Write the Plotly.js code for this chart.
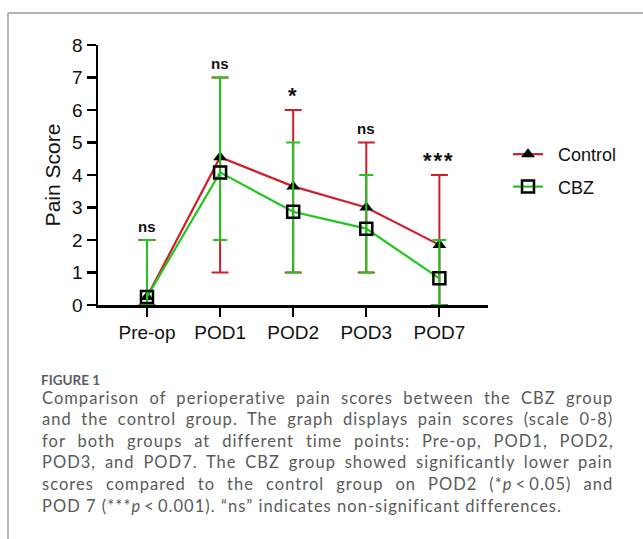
<!DOCTYPE html>
<html>
<head>
<meta charset="utf-8">
<script src="https://cdn.plot.ly/plotly-3.0.1.min.js"></script>
<style>
html,body{margin:0;padding:0;background:#fff;}
#chart{width:643px;height:539px;}
</style>
</head>
<body>
<div id="chart"></div>
<script>
// ---- data ----
const categories = ['Pre-op', 'POD1', 'POD2', 'POD3', 'POD7'];
const controlMean = [0.25, 4.55, 3.65, 3.0, 1.85];
const controlLow = [0, 1, 1, 1, 0];
const controlHigh = [2, 7, 6, 5, 4];
const cbzMean = [0.25, 4.08, 2.87, 2.35, 0.82];
const cbzLow = [0, 2, 1, 1, 0];
const cbzHigh = [2, 7, 5, 4, 2];
const seriesNames = ['Control', 'CBZ'];
const sigLabels = ['ns', 'ns', '*', 'ns', '***'];
const yTickVals = [0, 1, 2, 3, 4, 5, 6, 7, 8];
const figureLabel = 'FIGURE 1';
const captionLines = [
  'Comparison of perioperative pain scores between the CBZ group',
  'and the control group. The graph displays pain scores (scale 0-8)',
  'for both groups at different time points: Pre-op, POD1, POD2,',
  'POD3, and POD7. The CBZ group showed significantly lower pain',
  'scores compared to the control group on POD2 (*<i>p</i>\u2009<\u20090.05) and',
  'POD 7 (***<i>p</i>\u2009<\u20090.001). \u201Cns\u201D indicates non-significant differences.'
];

// ---- styling ----
const W = 643, H = 539;
const RED = '#d01f28', GREEN = '#20c620';
const AXFONT = 'Liberation Sans, Arial, sans-serif';
const CAPFONT = 'Lato, sans-serif';

function px(x) { return x / W; }
function py(y) { return 1 - y / H; }

// caption letter-spacing / justification
const cv = document.createElement('canvas').getContext('2d');
function plain(s) { return s.replace(/<[^>]+>/g, ''); }
function measure(s, size) { cv.font = size + 'px ' + CAPFONT; return cv.measureText(plain(s)).width; }
const capLeft = 40, capRight = 612, lastRight = 560, capSize = 16.5;
const lastLine = captionLines[captionLines.length - 1];
const capLS = Math.max(0, (lastRight - capLeft - measure(lastLine, capSize)) / plain(lastLine).length);
const captionAnn = captionLines.map((line, i) => {
  const n = plain(line).length;
  let style = 'letter-spacing:' + capLS.toFixed(2) + 'px';
  if (i < captionLines.length - 1) {
    const nat = measure(line, capSize) + capLS * n;
    const spaces = (plain(line).match(/ /g) || []).length;
    const ws = Math.max(0, (capRight - capLeft - nat) / spaces);
    style += ';word-spacing:' + ws.toFixed(2) + 'px';
  }
  return {
    xref: 'paper', yref: 'paper', x: px(capLeft), y: py(397.5 + i * 21.6),
    xanchor: 'left', yanchor: 'middle', align: 'left', showarrow: false,
    text: '<span style="' + style + '">' + line + '</span>',
    font: {family: CAPFONT, size: capSize, color: '#5a5a5a'}
  };
});

function errPlus(mean, high) { return mean.map((m, i) => high[i] - m); }
function errMinus(mean, low) { return mean.map((m, i) => m - low[i]); }

const traces = [
  {
    type: 'scatter', mode: 'lines+markers', name: '\u00a0\u00a0' + seriesNames[0],
    x: categories, y: controlMean, legendgroup: 'a',
    line: {color: RED, width: 2.2},
    marker: {symbol: 'triangle-up', size: 12, color: '#000'},
    error_y: {type: 'data', symmetric: false, array: errPlus(controlMean, controlHigh),
      arrayminus: errMinus(controlMean, controlLow), color: RED, thickness: 2, width: 8.5},
    cliponaxis: false
  },
  {
    type: 'scatter', mode: 'lines+markers', name: '\u00a0\u00a0' + seriesNames[1],
    x: categories, y: cbzMean, legendgroup: 'b',
    line: {color: GREEN, width: 2.2},
    marker: {symbol: 'square-open', size: 12, color: '#000', line: {width: 2.5, color: '#000'}},
    error_y: {type: 'data', symmetric: false, array: errPlus(cbzMean, cbzHigh),
      arrayminus: errMinus(cbzMean, cbzLow), color: GREEN, thickness: 2, width: 7},
    cliponaxis: false
  }
];

const sigAnn = sigLabels.map((s, i) => {
  const top = Math.max(controlHigh[i], cbzHigh[i]);
  const star = s.indexOf('*') === 0;
  return {
    xref: 'x', yref: 'y', x: categories[i], y: top + (star ? 0.45 : 0.43),
    xanchor: 'center', yanchor: 'middle', showarrow: false,
    text: star ? '<b><span style="letter-spacing:2px">' + s + '</span></b>' : '<b>' + s + '</b>',
    font: {family: AXFONT, size: star ? 22 : 15, color: '#111'}
  };
});

const layout = {
  width: W, height: H, autosize: false,
  margin: {l: 0, r: 0, t: 0, b: 0},
  paper_bgcolor: '#fff', plot_bgcolor: 'rgba(0,0,0,0)',
  showlegend: true,
  legend: {x: px(508), y: py(136), xanchor: 'left', yanchor: 'top',
    font: {family: AXFONT, size: 18, color: '#111'}, itemwidth: 30,
    traceorder: 'grouped', tracegroupgap: 6, bgcolor: 'rgba(0,0,0,0)'},
  xaxis: {
    type: 'category', domain: [px(98), px(488)], range: [-0.67, 4.665],
    showline: true, linecolor: '#000', linewidth: 2.5, mirror: false,
    ticks: 'outside', ticklen: 9, tickwidth: 2.2, tickcolor: '#000',
    showgrid: false, zeroline: false, anchor: 'y',
    tickfont: {family: AXFONT, size: 19, color: '#111'}
  },
  yaxis: {
    domain: [py(305), py(45)], range: [0, 8],
    tickvals: yTickVals, ticktext: yTickVals.map(String),
    showline: true, linecolor: '#000', linewidth: 2.5,
    ticks: 'outside', ticklen: 9, tickwidth: 2.2, tickcolor: '#000',
    showgrid: false, zeroline: false, anchor: 'x',
    tickfont: {family: AXFONT, size: 19, color: '#111'},
    title: {text: 'Pain Score', font: {family: AXFONT, size: 21, color: '#111'}, standoff: 6}
  },
  shapes: [
    {type: 'line', xref: 'paper', yref: 'paper', x0: px(8), x1: 1, y0: py(13), y1: py(13),
      line: {color: '#9a9a9a', width: 1.5}},
    {type: 'line', xref: 'paper', yref: 'paper', x0: px(8), x1: px(8), y0: py(13), y1: 0,
      line: {color: '#9a9a9a', width: 1.5}}
  ],
  annotations: sigAnn.concat([{
    xref: 'paper', yref: 'paper', x: px(39), y: py(380), xanchor: 'left', yanchor: 'middle',
    showarrow: false, text: '<b>' + figureLabel + '</b>',
    font: {family: 'Lato, sans-serif', size: 13.5, color: '#5b5b66'}
  }]).concat(captionAnn)
};

Plotly.newPlot('chart', traces, layout, {displayModeBar: false, staticPlot: true});
</script>
</body>
</html>
